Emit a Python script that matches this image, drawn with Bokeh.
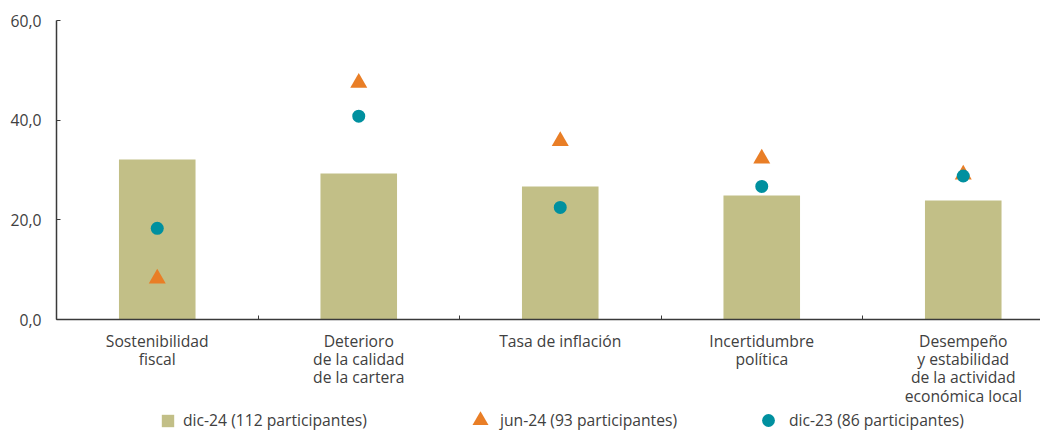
from bokeh.plotting import figure
from bokeh.layouts import column
from bokeh.models import Range1d, FixedTicker, Legend, LegendItem, ColumnDataSource
from bokeh.embed import file_html
from bokeh.resources import INLINE

# ---- data ----
categories = [
    "Sostenibilidad\nfiscal",
    "Deterioro\nde la calidad\nde la cartera",
    "Tasa de inflación",
    "Incertidumbre\npolítica",
    "Desempeño\ny estabilidad\nde la actividad\neconómica local",
]
dic24 = [32.1, 29.3, 26.7, 24.9, 23.9]
jun24 = [8.2, 47.5, 35.8, 32.3, 29.1]
dic23 = [18.3, 40.8, 22.5, 26.7, 28.8]
series_names = ["dic-24 (112 participantes)", "jun-24 (93 participantes)", "dic-23 (86 participantes)"]
y_ticks = [0, 20, 40, 60]
y_tick_labels = ["0,0", "20,0", "40,0", "60,0"]

# ---- style ----
FONT = "Open Sans"
FS = "15.7px"
TXT = "#404040"
AXIS = "#3a3a3a"
C_BAR = "#C2BF87"
C_TRI = "#E97E26"
C_CIR = "#00909F"

W = 1040
H1, H2 = 409, 22
LEFT, TOP = 56, 20
BOTTOM = H1 - 321
frame_w = W - LEFT
cat_px = 201.5
n = len(categories)
xc = [i + 0.5 for i in range(n)]

src = ColumnDataSource(dict(x=xc, dic24=dic24, jun24=jun24, dic23=dic23))

p = figure(width=W, height=H1, output_backend="svg", toolbar_location=None,
           x_range=Range1d(0, frame_w / cat_px), y_range=Range1d(0, 60),
           min_border_left=LEFT, min_border_right=0, min_border_top=TOP,
           min_border_bottom=BOTTOM)
p.outline_line_color = None
p.grid.visible = False
p.background_fill_color = "white"
p.border_fill_color = "white"

p.vbar(x="x", top="dic24", width=0.38, source=src, fill_color=C_BAR, line_color=None)
p.scatter(x="x", y="jun24", source=src, marker="triangle", size=17,
          fill_color=C_TRI, line_color=None)
p.scatter(x="x", y="dic23", source=src, marker="circle", size=13,
          fill_color=C_CIR, line_color=None)

# x axis
xa = p.xaxis[0]
xa.ticker = FixedTicker(ticks=xc, minor_ticks=list(range(n + 1)))
xa.major_label_overrides = {x: c for x, c in zip(xc, categories)}
xa.major_tick_in = 0
xa.major_tick_out = 0
xa.minor_tick_in = 4
xa.minor_tick_out = 0
xa.minor_tick_line_color = AXIS
xa.axis_line_color = AXIS
xa.axis_line_width = 1.5
xa.major_label_standoff = 10
xa.major_label_text_font = FONT
xa.major_label_text_font_size = FS
xa.major_label_text_color = TXT
xa.major_label_text_line_height = 0.84

# y axis
ya = p.yaxis[0]
ya.ticker = FixedTicker(ticks=y_ticks)
ya.major_label_overrides = {t: l for t, l in zip(y_ticks, y_tick_labels)}
ya.major_tick_in = 4
ya.major_tick_out = 0
ya.major_tick_line_color = AXIS
ya.minor_tick_line_color = None
ya.axis_line_color = AXIS
ya.axis_line_width = 1.5
ya.major_label_standoff = 15
ya.major_label_text_font = FONT
ya.major_label_text_font_size = FS
ya.major_label_text_color = TXT

# ---- legend strip ----
p2 = figure(width=W, height=H2, output_backend="svg", toolbar_location=None,
            x_range=Range1d(0, W), y_range=Range1d(0, H2),
            x_axis_type=None, y_axis_type=None,
            min_border=0, min_border_left=0, min_border_right=0,
            min_border_top=0, min_border_bottom=0)
p2.outline_line_color = None
p2.grid.visible = False
p2.background_fill_color = "white"
p2.border_fill_color = "white"

# legend proxies (placed outside the visible range)
proxy_sq = p2.scatter(x=[-100], y=[-100], marker="square", fill_color=C_BAR, line_color=None)
proxy_tri = p2.scatter(x=[-100], y=[-100], marker="triangle", fill_color=C_TRI, line_color=None)
proxy_cir = p2.scatter(x=[-100], y=[-100], marker="circle", fill_color=C_CIR, line_color=None)

leg_specs = [  # (renderer, glyph box, left x relative to the aligned frame, label standoff)
    (proxy_sq, 31, 96, 0),
    (proxy_tri, 40, 404, 0),
    (proxy_cir, 32, 696, 5),
]
for name, (r, g, lx, so) in zip(series_names, leg_specs):
    lg = Legend(items=[LegendItem(label=name, renderers=[r])],
                location=(lx, (H2 - g) / 2), orientation="horizontal",
                glyph_width=g, glyph_height=g, label_standoff=so,
                padding=0, margin=0, border_line_color=None, background_fill_alpha=0,
                label_text_font=FONT, label_text_font_size=FS, label_text_color=TXT,
                label_height=14)
    p2.add_layout(lg, "center")

layout = column(p, p2, spacing=0)
open("out.html", "w").write(file_html(layout, INLINE))
